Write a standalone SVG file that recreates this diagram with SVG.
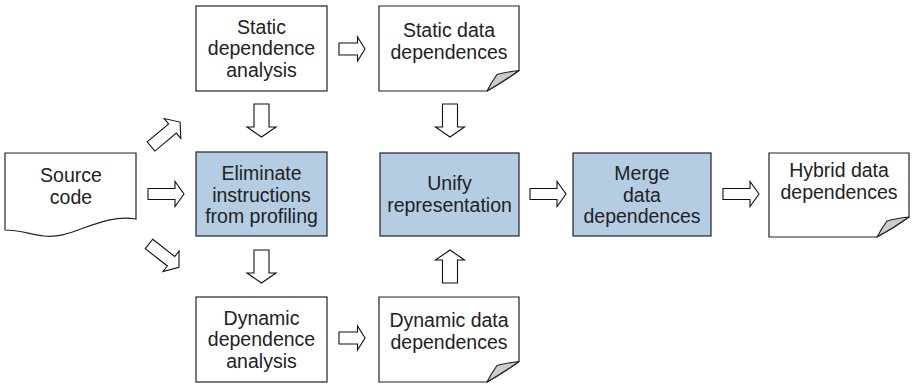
<svg xmlns="http://www.w3.org/2000/svg" xmlns:xlink="http://www.w3.org/1999/xlink" width="912" height="384" viewBox="0 0 912 384">
  <style>
    .box { fill: #ffffff; stroke: #222222; stroke-width: 1.2; }
    .proc { fill: #b4cde3; stroke: #222222; stroke-width: 1.2; }
    .curl { fill: #cccccc; stroke: #222222; stroke-width: 1.2; stroke-linejoin: round; }
    .arrow { fill: #ffffff; stroke: #111111; stroke-width: 1.1; stroke-linejoin: miter; }
    text { font-family: "Liberation Sans", Arial, sans-serif; font-size: 19.5px; fill: #222222; text-anchor: middle; }
  </style>
  <defs>
    <!-- hollow block arrows, drawn pointing right from the tail centre -->
    <path id="arrowLong" class="arrow" d="M0,-5.5 H27 V-12.5 L36,0 L27,12.5 V5.5 H0 Z"/>
    <path id="arrowShort" class="arrow" d="M0,-6 H18.5 V-12 L26,0 L18.5,12 V6 H0 Z"/>
    <path id="arrowVert" class="arrow" d="M0,-7.5 H23 V-14.5 L33,0 L23,14.5 V7.5 H0 Z"/>
    <path id="arrowDiag" class="arrow" d="M0,-6 H28 V-13 L38,0 L28,13 V6 H0 Z"/>
  </defs>

  <!-- connectors -->
  <g id="connectors">
    <use xlink:href="#arrowDiag" transform="translate(151,146.5) rotate(-40)"/>
    <use xlink:href="#arrowLong" transform="translate(148,194)"/>
    <use xlink:href="#arrowDiag" transform="translate(149,244) rotate(38)"/>
    <use xlink:href="#arrowShort" transform="translate(339,49)"/>
    <use xlink:href="#arrowShort" transform="translate(339,338)"/>
    <use xlink:href="#arrowVert" transform="translate(261.5,104) rotate(90)"/>
    <use xlink:href="#arrowVert" transform="translate(261.5,250) rotate(90)"/>
    <use xlink:href="#arrowVert" transform="translate(450,104) rotate(90)"/>
    <use xlink:href="#arrowVert" transform="translate(450,283) rotate(-90)"/>
    <use xlink:href="#arrowLong" transform="translate(530,194)"/>
    <use xlink:href="#arrowLong" transform="translate(723,194)"/>
  </g>

  <g id="source-code">
    <path class="box" d="M5,153 H136 V219 C100,213 72,240 44,236 C30,234 18,230 5,230 Z"/>
    <text x="71" y="182">Source</text>
    <text x="71" y="203.5">code</text>
  </g>

  <g id="static-analysis">
    <rect class="box" x="196" y="6" width="131" height="85"/>
    <text x="261.5" y="33.5">Static</text>
    <text x="261.5" y="55">dependence</text>
    <text x="261.5" y="76.5">analysis</text>
  </g>

  <g id="eliminate">
    <rect class="proc" x="196" y="152" width="131" height="84"/>
    <text x="261.5" y="180">Eliminate</text>
    <text x="261.5" y="201.5">instructions</text>
    <text x="261.5" y="223">from profiling</text>
  </g>

  <g id="dynamic-analysis">
    <rect class="box" x="196" y="297" width="131" height="85"/>
    <text x="261.5" y="324.5">Dynamic</text>
    <text x="261.5" y="346">dependence</text>
    <text x="261.5" y="367.5">analysis</text>
  </g>

  <g id="static-data">
    <path class="box" d="M379,6 H519 V70.5 Q503,82 487,91 H379 Z"/>
    <path class="curl" d="M519,70.5 Q506,72 497,74.5 Q491,83 487,91 Q503,82 519,70.5 Z"/>
    <text x="449" y="37">Static data</text>
    <text x="449" y="58.5">dependences</text>
  </g>

  <g id="unify">
    <rect class="proc" x="380" y="153" width="139" height="83"/>
    <text x="449.5" y="190">Unify</text>
    <text x="449.5" y="212">representation</text>
  </g>

  <g id="dynamic-data">
    <path class="box" d="M379,297 H519 V361.5 Q503,373 487,382 H379 Z"/>
    <path class="curl" d="M519,361.5 Q506,363 497,365.5 Q491,374 487,382 Q503,373 519,361.5 Z"/>
    <text x="449" y="327">Dynamic data</text>
    <text x="449" y="348.5">dependences</text>
  </g>

  <g id="merge">
    <rect class="proc" x="573" y="153" width="138" height="83"/>
    <text x="642" y="180">Merge</text>
    <text x="642" y="201.5">data</text>
    <text x="642" y="223">dependences</text>
  </g>

  <g id="hybrid-data">
    <path class="box" d="M769,153 H909 V217 Q893,228.5 877,237 H769 Z"/>
    <path class="curl" d="M909,217 Q896,218.5 887,221 Q881,229.5 877,237 Q893,228.5 909,217 Z"/>
    <text x="839" y="177">Hybrid data</text>
    <text x="839" y="198.5">dependences</text>
  </g>
</svg>
